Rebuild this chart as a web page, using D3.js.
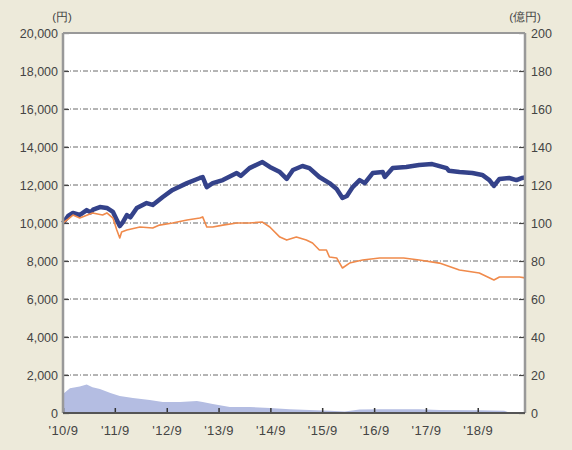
<!DOCTYPE html>
<html>
<head>
<meta charset="utf-8">
<script src="https://cdn.jsdelivr.net/npm/d3@7"></script>
<style>
    html, body { margin: 0; padding: 0; background: #EDEADA; }
    #chart { width: 572px; height: 450px; }
    text { font-family: "Liberation Sans", Arial, sans-serif; fill: #444; }
</style>
</head>
<body>
<div id="chart"></div>
<script>
//Datos
//Valor con dividendos reinvertidos (円)
const blueDates = ['2010-09-01','2010-10-07','2010-11-10','2010-12-28','2011-02-15','2011-03-15','2011-04-01','2011-05-19','2011-07-07','2011-08-19','2011-09-15','2011-10-06','2011-10-28','2011-11-25','2011-12-20','2012-02-03','2012-04-12','2012-05-25','2012-08-04','2012-10-12','2013-01-22','2013-04-22','2013-05-12','2013-06-10','2013-07-22','2013-10-01','2014-01-07','2014-02-05','2014-04-07','2014-07-07','2014-08-28','2014-11-07','2014-12-25','2015-02-07','2015-04-15','2015-06-03','2015-08-12','2015-10-22','2015-12-12','2016-01-22','2016-02-22','2016-04-03','2016-05-22','2016-06-27','2016-08-22','2016-11-01','2016-11-15','2017-01-10','2017-04-15','2017-07-15','2017-10-15','2018-01-25','2018-02-10','2018-04-25','2018-07-25','2018-10-03','2018-11-22','2018-12-24','2019-02-01','2019-04-10','2019-06-01','2019-07-12','2019-07-31'];
const blueValues = [10000,10370,10530,10420,10680,10560,10700,10840,10790,10580,10160,9840,10050,10420,10300,10790,11050,10950,11370,11740,12100,12370,12420,11890,12100,12260,12630,12480,12890,13210,12950,12680,12320,12790,13000,12890,12420,12100,11790,11320,11420,11890,12260,12100,12630,12680,12420,12890,12950,13050,13100,12890,12750,12680,12630,12530,12260,11950,12320,12370,12260,12370,12400];

//基準価額 (円)
const orangeDates = ['2010-09-01','2010-10-07','2010-11-10','2010-12-28','2011-03-28','2011-06-07','2011-07-07','2011-08-19','2011-09-15','2011-10-06','2011-10-19','2011-11-25','2012-02-25','2012-05-25','2012-07-12','2012-10-12','2013-01-22','2013-04-22','2013-05-12','2013-06-10','2013-07-22','2013-10-01','2014-01-07','2014-04-07','2014-07-07','2014-08-28','2014-11-07','2014-12-25','2015-03-03','2015-05-12','2015-06-25','2015-08-12','2015-10-01','2015-10-22','2015-12-12','2016-01-22','2016-03-12','2016-06-12','2016-10-10','2017-03-28','2017-07-15','2017-12-05','2018-04-25','2018-09-12','2018-12-24','2019-02-01','2019-06-22','2019-07-31'];
const orangeValues = [10000,10210,10420,10260,10530,10420,10530,10260,9630,9210,9530,9630,9790,9740,9890,10000,10160,10260,10320,9790,9790,9890,10000,10000,10050,9790,9260,9100,9260,9100,8950,8580,8580,8210,8160,7630,7890,8050,8160,8160,8050,7890,7530,7370,7000,7160,7160,7110];

//純資産総額 (億円)
const areaDates = ['2010-09-01','2010-10-20','2010-12-28','2011-02-15','2011-03-28','2011-05-19','2011-08-01','2011-10-06','2012-01-07','2012-05-04','2012-08-04','2012-12-04','2013-04-01','2013-05-12','2013-07-22','2013-11-19','2014-04-07','2014-08-28','2015-01-15','2015-06-03','2015-10-22','2016-02-07','2016-05-22','2016-10-10','2017-07-15','2017-12-05','2018-09-12','2019-03-07','2019-04-10','2019-07-31'];
const areaValues = [10,13,14,15,13.5,12.6,10.5,9,7.9,6.8,5.8,5.8,6.3,5.8,4.7,3.2,3.2,2.6,2.0,1.6,1.2,0.8,1.8,2.0,2.0,1.6,1.5,1.2,0.2,0.2];

//Etiquetas de los ejes
const xTickDates = ['2010-09-01','2011-09-01','2012-09-01','2013-09-01','2014-09-01','2015-09-01','2016-09-01','2017-09-01','2018-09-01'];
const xTickLabels = ["'10/9","'11/9","'12/9","'13/9","'14/9","'15/9","'16/9","'17/9","'18/9"];
const leftTicks = [0,2000,4000,6000,8000,10000,12000,14000,16000,18000,20000];
const rightTicks = [0,20,40,60,80,100,120,140,160,180,200];

//Colores fijos
const COLOR_BLUE = '#34428A',
COLOR_ORANGE = '#F08A4B',
COLOR_AREA = '#B4BDE2';

const parse = d3.timeParse('%Y-%m-%d');

let margin = {top: 33, right: 47, bottom: 37, left: 63},
    width = 572 - margin.left - margin.right,
    height = 450 - margin.top - margin.bottom;

let svg = d3.select('#chart')
    .append('svg')
        .attr('width', width + margin.left + margin.right)
        .attr('height', height + margin.top + margin.bottom)
    .append('g')
        .attr('transform', 'translate(' + margin.left + ',' + margin.top + ')');

let x = d3.scaleTime()
    .domain([parse('2010-09-01'), parse('2019-07-31')])
    .range([0, width]);

let yLeft = d3.scaleLinear().domain([0, 20000]).range([height, 0]);
let yRight = d3.scaleLinear().domain([0, 200]).range([height, 0]);

//Fondo del área del gráfico
svg.append('rect')
    .attr('width', width)
    .attr('height', height)
    .attr('fill', '#fff');

//Líneas de la rejilla
svg.selectAll('.grid')
    .data(leftTicks.filter(d => d > 0 && d < 20000))
    .enter()
    .append('line')
    .attr('x1', 0)
    .attr('x2', width)
    .attr('y1', d => yLeft(d))
    .attr('y2', d => yLeft(d))
    .attr('stroke', '#6a6a6a')
    .attr('stroke-width', 1)
    .attr('stroke-dasharray', '5,2,1,2');

//Área: 純資産総額
let areaData = areaDates.map((d, i) => ({date: parse(d), value: areaValues[i]}));
svg.append('path')
    .datum(areaData)
    .attr('fill', COLOR_AREA)
    .attr('d', d3.area()
        .x(d => x(d.date))
        .y0(yRight(0))
        .y1(d => yRight(d.value)));

//Línea azul
let blueData = blueDates.map((d, i) => ({date: parse(d), value: blueValues[i]}));
svg.append('path')
    .datum(blueData)
    .attr('fill', 'none')
    .attr('stroke', COLOR_BLUE)
    .attr('stroke-width', 4.5)
    .attr('stroke-linejoin', 'round')
    .attr('d', d3.line().x(d => x(d.date)).y(d => yLeft(d.value)));

//Línea naranja
let orangeData = orangeDates.map((d, i) => ({date: parse(d), value: orangeValues[i]}));
svg.append('path')
    .datum(orangeData)
    .attr('fill', 'none')
    .attr('stroke', COLOR_ORANGE)
    .attr('stroke-width', 1.6)
    .attr('stroke-linejoin', 'round')
    .attr('d', d3.line().x(d => x(d.date)).y(d => yLeft(d.value)));

//Ejes
let xAxis = d3.axisBottom(x)
    .tickValues(xTickDates.map(parse))
    .tickFormat((d, i) => xTickLabels[i])
    .tickSizeInner(-5)
    .tickSizeOuter(0)
    .tickPadding(13);

let gx = svg.append('g')
    .attr('transform', 'translate(0,' + height + ')')
    .call(xAxis);
gx.select('.domain').remove();
gx.selectAll('.tick line').attr('stroke', '#333').attr('stroke-width', 1.5);
gx.selectAll('text').attr('font-size', 13).attr('letter-spacing', 0.4).attr('fill', '#444');

let gyl = svg.append('g')
    .call(d3.axisLeft(yLeft).tickValues(leftTicks).tickFormat(d3.format(',')).tickSizeInner(-6).tickSizeOuter(0).tickPadding(5));
gyl.select('.domain').remove();
gyl.selectAll('.tick line').attr('stroke', '#444').attr('stroke-width', 1.2);
gyl.selectAll('text').attr('font-size', 12.5).attr('fill', '#444');

let gyr = svg.append('g')
    .attr('transform', 'translate(' + width + ',0)')
    .call(d3.axisRight(yRight).tickValues(rightTicks).tickSizeInner(-6).tickSizeOuter(0).tickPadding(6));
gyr.select('.domain').remove();
gyr.selectAll('.tick line').attr('stroke', '#444').attr('stroke-width', 1.2);
gyr.selectAll('text').attr('font-size', 12.5).attr('fill', '#444');

//Marco
svg.append('line').attr('x1', 0).attr('x2', width).attr('y1', 0).attr('y2', 0)
    .attr('stroke', '#999').attr('stroke-width', 2);
svg.append('line').attr('x1', 0).attr('x2', 0).attr('y1', 0).attr('y2', height)
    .attr('stroke', '#999').attr('stroke-width', 2.5);
svg.append('line').attr('x1', width).attr('x2', width).attr('y1', 0).attr('y2', height)
    .attr('stroke', '#999').attr('stroke-width', 2.5);
svg.append('line').attr('x1', 0).attr('x2', width).attr('y1', height).attr('y2', height)
    .attr('stroke', '#555').attr('stroke-width', 2);

//Unidades
svg.append('text')
    .attr('x', -1)
    .attr('y', -12)
    .attr('text-anchor', 'middle')
    .attr('font-size', 11.5)
    .text('(円)');

svg.append('text')
    .attr('x', width)
    .attr('y', -12)
    .attr('text-anchor', 'middle')
    .attr('font-size', 11.5)
    .text('(億円)');
</script>
</body>
</html>
